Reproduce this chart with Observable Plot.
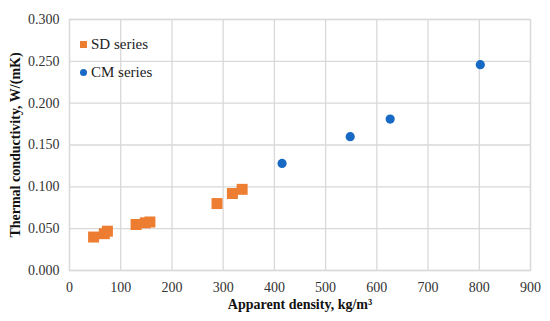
<!DOCTYPE html>
<html>
<head>
<meta charset="utf-8">
<script src="https://cdn.jsdelivr.net/npm/d3@7"></script>
<script src="https://cdn.jsdelivr.net/npm/@observablehq/plot@0.6"></script>
<style>
  body { margin: 0; background: #fff; }
  #wrap { position: relative; width: 550px; height: 321px; font-family: "Liberation Serif", "Times New Roman", serif; }
  #wrap svg, #wrap svg text { font-family: "Liberation Serif", "Times New Roman", serif !important; }
  .leg { position: absolute; font-size: 15px; color: #222; display: flex; align-items: center; line-height: 16px; }
  .sw { display: inline-block; margin-right: 4px; }
</style>
</head>
<body>
<div id="wrap"></div>
<script>
const sdDensity = [47, 68, 74, 130, 148, 157, 288, 318, 337];
const sdConductivity = [0.040, 0.044, 0.047, 0.055, 0.057, 0.058, 0.080, 0.092, 0.097];
const cmDensity = [415, 548, 626, 802];
const cmConductivity = [0.128, 0.160, 0.181, 0.246];
const xTicks = [0, 100, 200, 300, 400, 500, 600, 700, 800, 900];
const yTicks = [0, 0.05, 0.10, 0.15, 0.20, 0.25, 0.30];
const seriesNames = ["SD series", "CM series"];
const colors = ["#ED7D31", "#1769C4"];

const sd = sdDensity.map((d, i) => ({x: d, y: sdConductivity[i]}));
const cm = cmDensity.map((d, i) => ({x: d, y: cmConductivity[i]}));

const chart = Plot.plot({
  width: 550,
  height: 321,
  marginLeft: 69,
  marginRight: 20,
  marginTop: 19,
  marginBottom: 51,
  style: {fontSize: "14px", color: "#333", background: "#fff"},
  x: {domain: [0, 900], ticks: xTicks, tickSize: 0, tickPadding: 10, label: null},
  y: {domain: [0, 0.3], ticks: yTicks, tickSize: 0, tickPadding: 10, tickFormat: d3.format(".3f"), label: null},
  marks: [
    Plot.gridX(xTicks, {stroke: "#d9d9d9", strokeOpacity: 1, strokeWidth: 1.3}),
    Plot.gridY(yTicks, {stroke: "#d9d9d9", strokeOpacity: 1, strokeWidth: 1.3}),
    Plot.frame({stroke: "#d9d9d9", strokeWidth: 1.3}),
    Plot.axisX({ticks: xTicks, tickSize: 0, tickPadding: 12, fontSize: 14, fill: "#333"}),
    Plot.axisY({ticks: yTicks, tickSize: 0, tickPadding: 10, tickFormat: d3.format(".3f"), fontSize: 14, fill: "#333"}),
    Plot.dot(sd, {x: "x", y: "y", symbol: "square", r: 6.2, fill: colors[0], stroke: null}),
    Plot.dot(cm, {x: "x", y: "y", symbol: "circle", r: 4.6, fill: colors[1], stroke: null}),
    Plot.text(["Apparent density, kg/m³"], {frameAnchor: "bottom", dy: 38, fontWeight: "bold", fontSize: 14, fill: "#111"}),
    Plot.text(["Thermal conductivity, W/(mK)"], {frameAnchor: "left", textAnchor: "middle", dx: -54, rotate: -90, fontWeight: "bold", fontSize: 14, fill: "#111"})
  ]
});
const wrap = document.getElementById("wrap");
wrap.appendChild(chart);

function legendItem(name, color, shape, top) {
  const d = document.createElement("div");
  d.className = "leg";
  d.style.left = "80px";
  d.style.top = top + "px";
  const s = document.createElement("span");
  s.className = "sw";
  s.style.width = "7px";
  s.style.height = "7px";
  s.style.background = color;
  if (shape === "circle") s.style.borderRadius = "50%";
  d.appendChild(s);
  d.appendChild(document.createTextNode(name));
  wrap.appendChild(d);
}
legendItem(seriesNames[0], colors[0], "square", 36);
legendItem(seriesNames[1], colors[1], "circle", 64);
</script>
</body>
</html>
